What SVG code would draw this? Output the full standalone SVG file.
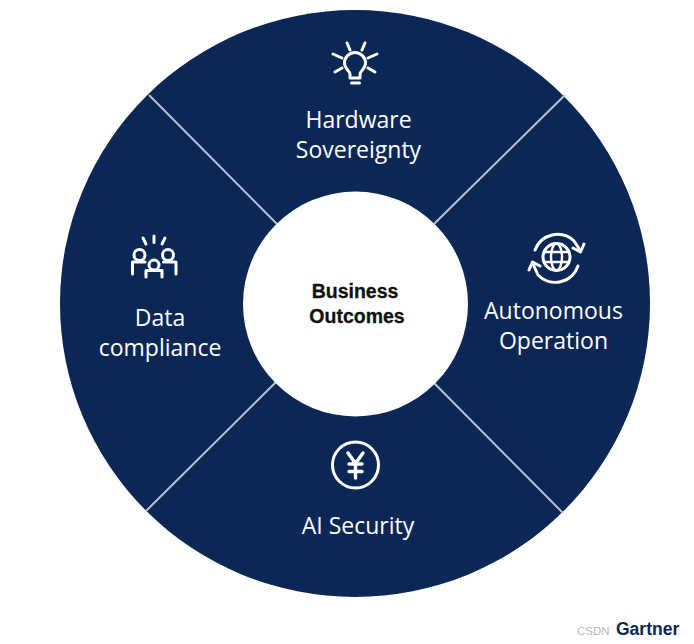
<svg xmlns="http://www.w3.org/2000/svg" width="694" height="644" viewBox="0 0 694 644">
<style>
.lbl{font-family:"Open Sans","Noto Sans",sans-serif;font-size:23px;fill:#fff;text-anchor:middle}
.ctr{font-family:"Liberation Sans",Arial,sans-serif;font-size:19.500px;font-weight:bold;fill:#111;text-anchor:middle;stroke:#111;stroke-width:.3}
.ic{fill:none;stroke:#fff;stroke-width:3;stroke-linecap:round;stroke-linejoin:round}
.sep{stroke:#b9c3d2;stroke-width:2}
</style>
<rect width="694" height="644" fill="#fff"/>
<g id="ring"><ellipse cx="355" cy="303.500" rx="295" ry="293.500" fill="#0a2756"/></g>
<g id="connectors">
<line class="sep" x1="149" y1="95" x2="277" y2="224"/>
<line class="sep" x1="565" y1="95" x2="434" y2="224"/>
<line class="sep" x1="146" y1="511" x2="276" y2="382"/>
<line class="sep" x1="563" y1="513" x2="434" y2="383"/>
</g>
<g id="center"><circle cx="355.500" cy="304" r="112.500" fill="#fff"/>
<text class="ctr" x="355" y="298">Business</text><text class="ctr" x="357" y="323">Outcomes</text></g>
<g id="hardware">
<g class="ic">
<path d="M350 78v-4c0-3-5.500-5-5.500-11a10.500 10.500 0 0 1 21 0c0 6-5.500 8-5.500 11v4z"/>
<path d="M351.500 83h8M347 43l3 7M365 43l-3 7M333 54l9 4M377 54l-9 4M335 72l7-4M375 72l-7-4"/>
</g>
<text class="lbl" x="358.500" y="128">Hardware</text><text class="lbl" x="358.500" y="158">Sovereignty</text>
</g>
<g id="autonomous">
<g class="ic">
<circle cx="556.500" cy="257" r="13.500"/><ellipse cx="556.500" cy="257" rx="5.500" ry="13.500" stroke-width="2.400"/><path d="M544 252h25M544 262h25" stroke-width="2.400"/>
<path d="M535 250a24 24 0 0 1 39-9l6 9"/><path d="M578 266a24 24 0 0 1-40 9l-5-11"/>
<path d="M584 244l-3.500 8-7.500-4M529 270l3.500-8 7.500 4" />
</g>
<text class="lbl" x="553.500" y="319">Autonomous</text><text class="lbl" x="553.500" y="349">Operation</text>
</g>
<g id="compliance">
<g class="ic">
<circle cx="139.500" cy="255" r="5.500"/><circle cx="168" cy="255" r="5.500"/><circle cx="154" cy="265" r="5"/>
<path d="M132.500 274v-12h12.500M176 274v-12h-12.500M146 277v-6.500h16v6.500"/>
<path d="M143 238l3 6M154 236v6.500M165 238l-3 6"/>
</g>
<text class="lbl" x="160" y="326">Data</text><text class="lbl" x="160" y="356">compliance</text>
</g>
<g id="security">
<g class="ic">
<circle cx="355.500" cy="465" r="23"/>
<path d="M348 453l7.500 10.500 7.500-10.500M355.500 463.500v14.500M349 464h13M349 471.500h13" stroke-width="3.400"/>
</g>
<text class="lbl" x="358" y="534">AI Security</text>
</g>
<g id="watermark">
<text x="577" y="635" font-family="Liberation Sans,Arial,sans-serif" font-size="11.500" fill="#b8b8b8">CSDN</text>
<text x="616" y="635" font-family="Liberation Sans,Arial,sans-serif" font-size="17.500" font-weight="bold" fill="#0a2756">Gartner</text>
</g>
</svg>
